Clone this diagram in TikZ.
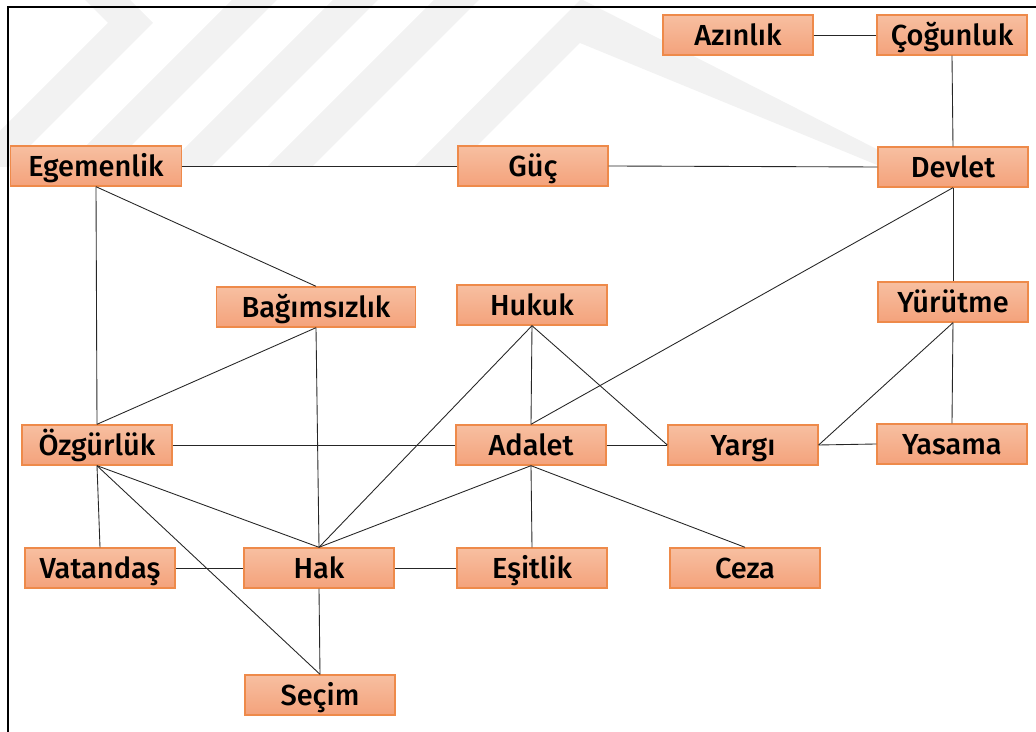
\documentclass[tikz,border=0pt]{standalone}
\usepackage{fontspec}
\setmainfont{Fira Sans}[UprightFont=* Medium]
\definecolor{boxtop}{HTML}{F7BFA1}
\definecolor{boxbot}{HTML}{F4A27B}
\definecolor{boxedge}{HTML}{EE8A4A}
\tikzset{
  concept/.style={draw=boxedge, line width=0.8pt, top color=boxtop, bottom color=boxbot,
    minimum width=3cm, minimum height=0.8cm, inner sep=0pt,
    text height=11.4pt, text depth=0pt,
    font=\fontsize{16.5}{20}\selectfont},
  link/.style={draw=black!85, line width=0.5pt},
  wm/.style={fill=black!5},
  frame/.style={draw=black, line width=1.4pt}
}
\begin{document}
\begin{tikzpicture}[x={(0.02cm,0)}, y={(0,-0.02cm)}]
\useasboundingbox (0,0) rectangle (1036,732);

% faint background emblem
\begin{scope}
  \clip (0,0) rectangle (1036,167);
  \fill[wm] (130,0) -- (153,23) -- (9,167) -- (-36,167) -- (108,23) -- (85,0) -- cycle;
  \fill[wm] (277,0) -- (110,167) -- (65,167) -- (232,0) -- cycle;
  \fill[wm] (378,0) -- (211,167) -- (166,167) -- (333,0) -- cycle;
  \fill[wm] (479,0) -- (312,167) -- (267,167) -- (434,0) -- cycle;
  \fill[wm] (581,-1) -- (414,167) -- (456,167) -- (580,43) -- (882,167) -- (912,167) -- cycle;
\end{scope}

% outer frame
\draw[frame] (8,7) rectangle (1050,750);

% concepts
\node[concept] (azinlik)     at (738,35)  {Azınlık};
\node[concept] (cogunluk)    at (952,35)  {Çoğunluk};
\node[concept, minimum width=3.42cm] (egemenlik) at (96,166) {Egemenlik};
\node[concept] (guc)         at (533,166) {Güç};
\node[concept] (devlet)      at (953,167) {Devlet};
\node[concept, minimum width=3.98cm] (bagimsizlik) at (316,307) {Bağımsızlık};
\node[concept] (hukuk)       at (532,305) {Hukuk};
\node[concept] (yurutme)     at (953,302) {Yürütme};
\node[concept] (ozgurluk)    at (97,445)  {Özgürlük};
\node[concept] (adalet)      at (531,445) {Adalet};
\node[concept] (yargi)       at (743,445) {Yargı};
\node[concept] (yasama)      at (952,444) {Yasama};
\node[concept] (vatandas)    at (100,568) {Vatandaş};
\node[concept] (hak)         at (319,568) {Hak};
\node[concept] (esitlik)     at (532,568) {Eşitlik};
\node[concept] (ceza)        at (745,568) {Ceza};
\node[concept] (secim)       at (320,695) {Seçim};

% connections
\draw[link] (azinlik.east) -- (cogunluk.west);
\draw[link] (cogunluk.south) -- (devlet.north);
\draw[link] (egemenlik.east) -- (guc.west);
\draw[link] (guc.east) -- (devlet.west);
\draw[link] (egemenlik.south) -- (bagimsizlik.north);
\draw[link] (egemenlik.south) -- (ozgurluk.north);
\draw[link] (devlet.south) -- (yurutme.north);
\draw[link] (devlet.south) -- (adalet.north);
\draw[link] (bagimsizlik.south) -- (ozgurluk.north);
\draw[link] (bagimsizlik.south) -- (hak.north);
\draw[link] (hukuk.south) -- (adalet.north);
\draw[link] (hukuk.south) -- (hak.north);
\draw[link] (hukuk.south) -- (yargi.west);
\draw[link] (yurutme.south) -- (yargi.east);
\draw[link] (yurutme.south) -- (yasama.north);
\draw[link] (yargi.east) -- (yasama.west);
\draw[link] (ozgurluk.east) -- (adalet.west);
\draw[link] (adalet.east) -- (yargi.west);
\draw[link] (ozgurluk.south) -- (vatandas.north);
\draw[link] (ozgurluk.south) -- (hak.north);
\draw[link] (ozgurluk.south) -- (secim.north);
\draw[link] (vatandas.east) -- (hak.west);
\draw[link] (adalet.south) -- (hak.north);
\draw[link] (adalet.south) -- (esitlik.north);
\draw[link] (adalet.south) -- (ceza.north);
\draw[link] (hak.east) -- (esitlik.west);
\draw[link] (hak.south) -- (secim.north);
\end{tikzpicture}
\end{document}
